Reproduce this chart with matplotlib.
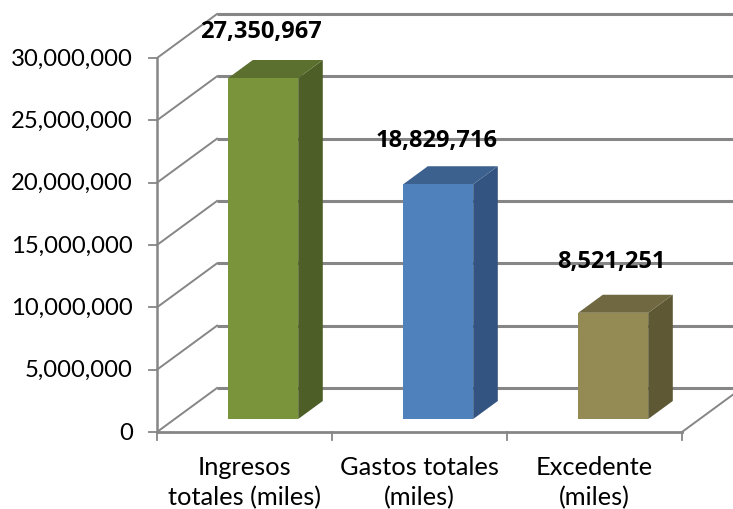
import matplotlib
matplotlib.use("Agg")
import matplotlib.pyplot as plt
from matplotlib.patches import Polygon

categories = ["Ingresos\ntotales (miles)", "Gastos totales\n(miles)", "Excedente\n(miles)"]
values = [27350967, 18829716, 8521251]
yticks = [0, 5000000, 10000000, 15000000, 20000000, 25000000, 30000000]

front_colors = ["#7A943C", "#4F81BD", "#948A54"]
top_colors = ["#5B6F2E", "#3C618E", "#6F6840"]
side_colors = ["#4D5F27", "#335480", "#5E5934"]

plt.rcParams["font.family"] = ["Lato", "DejaVu Sans"]

W, H = 733, 510
X0, Y0 = 157, 433      # front corner of the floor, in pixels
CAT_W = 175.0          # pixels per category
PX_PER_UNIT = 374 / 30000000
DX = 60 / CAT_W        # shear of the full depth, x
DY = 44 / PX_PER_UNIT  # shear of the full depth, y
GRID = "#868686"

fig = plt.figure(figsize=(W / 100, H / 100), dpi=100)
ax = fig.add_axes([0, 0, 1, 1])
ax.set_xlim(-X0 / CAT_W, (W - X0) / CAT_W)
ax.set_ylim(-(H - Y0) / PX_PER_UNIT, Y0 / PX_PER_UNIT)
ax.axis("off")


def proj(x, y, d):
    return (x + d * DX, y + d * DY)


n = len(categories)
far = (W - X0) / CAT_W

# back wall and side gridlines
for v in yticks:
    ax.plot([0, DX], [v, v + DY], color=GRID, lw=1.4, zorder=1)
    ax.plot([DX, far], [v + DY, v + DY], color=GRID, lw=2.2, zorder=1, solid_capstyle="butt")

# floor edge on the right
ax.plot([n, n + DX], [0, DY], color=GRID, lw=1.4, zorder=1)

# front axes
ax.plot([0, 0], [0, yticks[-1]], color=GRID, lw=1.8, zorder=2)
ax.plot([0, n], [0, 0], color=GRID, lw=2.0, zorder=2)
for v in yticks:
    ax.plot([-8 / CAT_W, 0], [v, v], color=GRID, lw=1.3, zorder=2)
    ax.text(-24 / CAT_W, v, f"{v:,}", ha="right", va="center", fontsize=17.2, color="#000000")
for i in range(n + 1):
    ax.plot([i, i], [0, -8 / PX_PER_UNIT], color=GRID, lw=1.3, zorder=2)

d1, d2 = 0.295, 0.705
half = 35 / CAT_W
nudge = 1 / CAT_W
label_lift = [29, 26, 34]
for i, v in enumerate(values):
    c = i + 0.5 + nudge
    l, r = c - half, c + half
    front = [proj(l, 0, d1), proj(r, 0, d1), proj(r, v, d1), proj(l, v, d1)]
    side = [proj(r, 0, d1), proj(r, 0, d2), proj(r, v, d2), proj(r, v, d1)]
    top = [proj(l, v, d1), proj(r, v, d1), proj(r, v, d2), proj(l, v, d2)]
    ax.add_patch(Polygon(side, fc=side_colors[i], ec="none", zorder=3))
    ax.add_patch(Polygon(top, fc=top_colors[i], ec="none", zorder=3))
    ax.add_patch(Polygon(front, fc=front_colors[i], ec="none", zorder=4))

    ly = proj(c, v, d2)[1]
    ax.text(proj(c, v, d1)[0] - 2 / CAT_W, ly + label_lift[i] / PX_PER_UNIT, f"{v:,}", ha="center", va="center",
            fontsize=17, fontweight="bold", family="Open Sans", color="#000000", zorder=5)
    ax.text(i + 0.5, -50 / PX_PER_UNIT, categories[i], ha="center", va="center", fontsize=18.3,
            linespacing=1.35, color="#000000")

fig.savefig("out.png", dpi=100)
